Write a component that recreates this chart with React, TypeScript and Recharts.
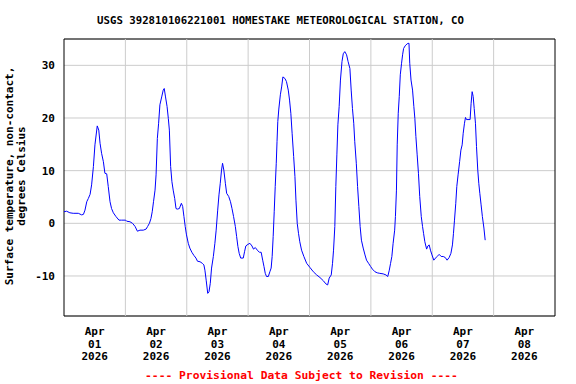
import React from "react";
import { LineChart, Line, XAxis, YAxis, CartesianGrid, ReferenceLine, ReferenceArea } from "recharts";

// hours since Apr 01 2026 00:00
const hours = [
  0, 1.0, 2.3, 3.6, 5.6, 6.9, 7.6, 8.2, 8.9, 9.5, 10.2, 10.8, 11.5, 12.1, 13.0, 13.6, 14.1, 14.7, 15.4, 16.0,
  16.7, 17.3, 18.0, 18.6, 19.3, 20.3, 21.5, 22.5, 24.1, 24.5, 25.8, 26.8, 27.8, 28.7, 29.7, 31.0, 32.1, 32.7,
  33.4, 34.0, 34.5, 35.0, 35.6, 36.0, 36.5, 37.0, 37.5, 38.2, 38.8, 39.2, 39.7, 40.3, 40.8, 41.2, 41.7, 42.2,
  42.7, 43.3, 43.8, 44.3, 45.1, 45.9, 46.4, 46.9, 47.4, 47.9, 48.6, 49.2, 50.0, 50.8, 51.6, 52.2, 53.2, 54.1,
  54.7, 55.1, 55.6, 56.2, 56.7, 57.2, 57.7, 58.4, 59.0, 59.5, 60.1, 60.6, 61.1, 61.6, 62.0, 62.5, 63.1, 63.6,
  64.4, 65.1, 65.7, 66.3, 67.0, 67.5, 68.0, 68.5, 69.1, 70.1, 70.6, 71.1, 71.9, 72.7, 73.5, 74.1, 74.8, 75.6,
  76.4, 77.1, 77.7, 78.2, 78.7, 79.2, 79.9, 80.5, 81.0, 81.4, 81.8, 82.2, 82.6, 83.0, 83.3, 83.6, 84.0, 84.6,
  85.1, 85.6, 86.4, 87.0, 87.7, 88.2, 88.7, 89.2, 89.8, 90.3, 90.7, 91.2, 91.7, 92.2, 92.9, 93.8, 94.9, 96.2,
  97.5, 98.8, 100.1, 101.4, 102.4, 103.1, 103.7, 104.5, 105.0, 105.4, 105.9, 106.3, 106.7, 107.1, 107.6, 108.1,
  108.7, 109.2, 109.8, 110.5, 111.1, 111.8, 112.3, 112.8, 113.3, 113.7, 114.3, 114.8, 115.3, 115.8, 116.3,
  117.0, 117.7, 118.3, 119.1, 119.9, 120.6, 121.6, 122.5, 123.5, 124.8, 125.9, 126.6, 127.2, 127.7, 128.2,
  128.7, 129.3, 129.6, 130.0, 130.3, 130.7, 131.1, 131.5, 132.0, 132.4, 132.8, 133.4, 134.2, 134.9, 135.2,
  135.7, 136.3, 136.8, 137.2, 137.6, 138.1, 138.6, 139.1, 139.7, 140.2, 140.6, 141.1, 141.8, 142.3, 142.8,
  143.3, 143.9, 144.6, 145.3, 145.9, 146.7, 147.5, 148.3, 149.1, 149.8, 150.6, 151.3, 151.9, 152.3, 152.7,
  153.2, 153.6, 154.1, 154.7, 155.2, 155.7, 156.1, 156.6, 157.0, 157.4, 158.8, 159.2, 159.6, 160.0, 160.4,
  160.9, 161.3, 161.8, 162.2, 162.6, 163.1, 163.6, 164.2, 164.7,
];

const temps = [
  2.2, 2.3, 2.0, 1.9, 1.9, 1.6, 1.7, 2.5, 4.1, 4.7, 5.5, 7.3, 10.8, 14.9, 18.5, 17.7, 15.2, 13.3, 11.7, 9.5,
  9.4, 7.0, 4.1, 2.8, 2.0, 1.3, 0.6, 0.6, 0.6, 0.4, 0.3, 0.0, -0.6, -1.5, -1.3, -1.3, -1.1, -0.6,
  0.0, 0.9, 2.2, 4.1, 6.3, 9.2, 16.1, 19.0, 22.5, 24.0, 25.3, 25.6, 24.0, 22.2, 19.9, 17.7, 10.8, 7.9,
  6.3, 4.7, 2.8, 2.7, 2.8, 3.8, 3.2, 1.3, -0.6, -2.2, -3.8, -4.7, -5.5, -6.1, -6.6, -7.2, -7.3, -7.6,
  -7.9, -8.9, -10.8, -13.3, -13.0, -11.4, -8.5, -6.3, -3.8, -1.3, 2.5, 5.4, 7.6, 10.1, 11.4, 10.1, 7.6, 5.7,
  5.1, 4.1, 2.8, 1.3, -0.6, -2.5, -4.4, -5.7, -6.6, -6.6, -5.4, -4.3, -4.0, -3.8, -4.3, -4.9, -4.6, -5.1,
  -5.5, -5.5, -7.0, -8.2, -9.5, -10.1, -10.1, -9.2, -8.5, -6.3, -2.5, 2.2, 7.0, 11.4, 15.5, 19.3, 21.7, 24.4,
  25.9, 27.8, 27.5, 26.9, 25.3, 23.4, 20.9, 17.1, 12.7, 8.9, 4.4, 0.0, -1.9, -3.5, -5.1, -6.3, -7.6, -8.4,
  -9.2, -9.8, -10.3, -10.9, -11.5, -11.7, -10.4, -9.8, -7.6, -5.1, -0.6, 7.0, 13.0, 18.7, 22.2, 27.2,
  30.7, 32.2, 32.6, 32.0, 30.7, 29.4, 25.3, 21.8, 19.0, 15.5, 11.4, 7.0, 3.2, -0.6, -3.2,
  -4.7, -6.0, -7.0, -7.6, -8.2, -8.7, -9.2, -9.4, -9.5, -9.6, -9.8, -10.1, -8.9, -7.6, -6.3,
  -3.8, -1.3, 1.3, 6.3, 14.9, 20.9, 24.1, 28.2, 30.4, 32.0, 33.2, 33.7, 34.1, 34.2, 30.4,
  27.2, 25.3, 22.2, 19.9, 16.5, 13.0, 9.5, 5.1, 1.3, -0.6, -1.9, -3.5, -4.9, -4.3, -4.1,
  -5.1, -6.0, -7.0, -6.6, -6.3, -5.9, -6.3, -6.3, -6.5, -7.0, -6.5, -5.7, -4.1, -1.9, 0.6,
  3.8, 7.0, 9.2, 11.7, 13.9, 14.9, 17.1, 19.0, 20.1, 19.7, 19.7, 22.8, 25.0, 24.1, 21.8,
  19.0, 14.6, 10.1, 7.6, 5.7, 3.5, 1.3, -0.9, -3.2,
];

const dayLabels = ["01", "02", "03", "04", "05", "06", "07", "08"];
const labelHours = [12, 36, 60, 84, 108, 132, 156, 180];
const dayBoundaries = [24, 48, 72, 96, 120, 144, 168];
const yTicks = [-10, 0, 10, 20, 30];
const yDomain = [-17.6, 35];
const xDomain = [0, 192];

const data = hours.map((h, i) => ({ h, t: temps[i] }));

const FONT = "'DejaVu Sans Mono', monospace";

const DateTick = (props: any) => {
  const { x, y, index } = props;
  const d = dayLabels[index] ?? "";
  return (
    <text x={x} y={y} textAnchor="middle" fontFamily={FONT} fontWeight="bold" fontSize={11} fill="#000">
      <tspan x={x} dy={10.5}>Apr</tspan>
      <tspan x={x} dy={13}>{d}</tspan>
      <tspan x={x} dy={12.6}>2026</tspan>
    </text>
  );
};

export default function App() {
  return (
    <div style={{ position: "absolute", left: 0, top: 0, width: 576, height: 384, background: "#fff", fontFamily: FONT }}>
      <div style={{ position: "absolute", left: 0, width: 561, top: 13, textAlign: "center", fontSize: 10.7, fontWeight: "bold", color: "#000", whiteSpace: "nowrap", lineHeight: "16px" }}>
        USGS 392810106221001 HOMESTAKE METEOROLOGICAL STATION, CO
      </div>
      <LineChart width={576} height={384} data={data} margin={{ top: 39, right: 21, bottom: 0, left: 0 }}>
        <CartesianGrid vertical={false} stroke="#cccccc" strokeWidth={1} />
        {dayBoundaries.map((b) => (
          <ReferenceLine key={b} x={b} stroke="#cccccc" strokeWidth={1} />
        ))}
        <XAxis
          type="number"
          dataKey="h"
          domain={xDomain}
          ticks={labelHours}
          allowDataOverflow
          height={68}
          axisLine={false}
          tickLine={false}
          tick={<DateTick />}
          interval={0}
        />
        <YAxis
          type="number"
          domain={yDomain}
          ticks={yTicks}
          allowDataOverflow
          width={64}
          axisLine={false}
          tickLine={false}
          tickSize={6}
          tickMargin={3}
          tick={{ fontFamily: FONT, fontWeight: "bold", fontSize: 11, fill: "#000" }}
          interval={0}
        />
        <Line type="linear" dataKey="t" stroke="#0000ff" strokeWidth={1} dot={false} isAnimationActive={false} />
        <ReferenceArea x1={0} x2={192} y1={-17.6} y2={35} fill="none" stroke="#000" strokeWidth={1} ifOverflow="visible" />
      </LineChart>
      <div style={{ position: "absolute", left: 16, top: 176, width: 0, height: 0 }}>
        <div style={{ position: "absolute", left: 0, top: 0, transform: "translate(-50%, -50%) rotate(-90deg)", whiteSpace: "nowrap", textAlign: "center", fontSize: 11, fontWeight: "bold", lineHeight: "12px", color: "#000" }}>
          Surface temperature, non-contact,<br />degrees Celsius
        </div>
      </div>
      <div style={{ position: "absolute", left: 0, width: 603, top: 368, textAlign: "center", fontSize: 11.3, fontWeight: "bold", color: "#ff0000", whiteSpace: "nowrap", lineHeight: "16px" }}>
        ---- Provisional Data Subject to Revision ----
      </div>
    </div>
  );
}
